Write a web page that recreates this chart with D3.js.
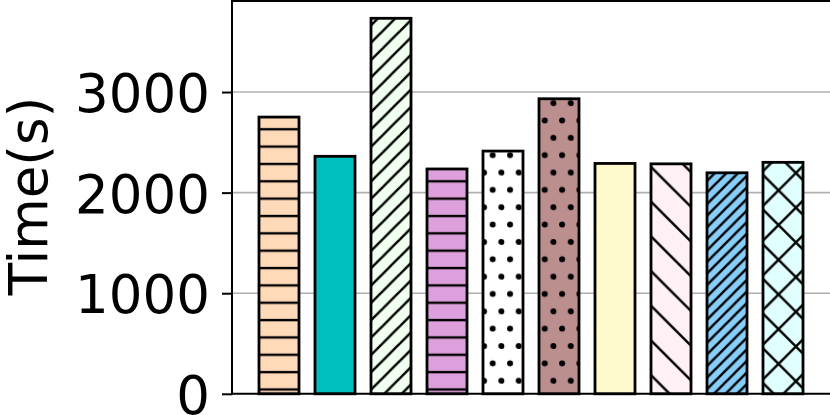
<!DOCTYPE html>
<html><head><meta charset="utf-8">
<script src="https://cdn.jsdelivr.net/npm/d3@7"></script>
<style>body{margin:0;background:#fff}svg{display:block}</style>
</head><body><svg id="c" width="830" height="415"></svg>
<script>
// ---- data ----
const categories = ["B1","B2","B3","B4","B5","B6","B7","B8","B9","B10"];
const times = [2751, 2361, 3733, 2235, 2413, 2933, 2290, 2286, 2197, 2301];
const colors = ["#FFDAB9","#00BFBF","#F0FFF0","#DDA0DD","#FFFFFF","#BC8F8F","#FFFACD","#FFF0F5","#87CEFA","#E0FFFF"];
const hatches = ["-","","//","-",".",".","","\\","///","x"];
const yTicks = [0, 1000, 2000, 3000];
const yLabel = "Time(s)";

(function () {
// ---- layout ----
const W = 830, H = 415;
const pLeft = 232, pRight = 830, pTop = 1, pBottom = 393.8;
const svg = d3.select("#c");
svg.append("rect").attr("width", W).attr("height", H).attr("fill", "#fff");

const x = d3.scaleBand().domain(categories).range([pLeft, pRight])
  .paddingInner(0.2857).paddingOuter(0.482).align(0.5);
const y = d3.scaleLinear().domain([0, 3905]).range([pBottom, pTop]);

// ---- hatch patterns ----
const T = 104.1;
const defs = svg.append("defs");
const hw = 2.4;
function makePattern(id, h) {
  const nH = (h.split("-").length - 1) * 6;
  const nNE = ((h.split("/").length - 1) + (h.split("x").length - 1)) * 6;
  const nNW = ((h.split("\\").length - 1) + (h.split("x").length - 1)) * 6;
  const nDot = (h.split(".").length - 1) * 6;
  if (nDot) {
    const s = T / nDot;
    const p = defs.append("pattern").attr("id", id).attr("patternUnits", "userSpaceOnUse")
      .attr("width", s).attr("height", 2 * s);
    const pts = [[6.9 % s, 16.4 % (2*s)], [(6.9 + s/2) % s, (16.4 + s) % (2*s)]];
    pts.forEach(([cx, cy]) => {
      for (let dx = -1; dx <= 1; dx++) for (let dy = -1; dy <= 1; dy++)
        p.append("circle").attr("cx", cx + dx * s).attr("cy", cy + dy * 2 * s).attr("r", 3).attr("fill", "#000");
    });
    return;
  }
  let per = 1000;
  if (nH) per = T / nH;
  if (nNE) per = 2 * T / nNE;
  if (nNW) per = 2 * T / nNW;
  const p = defs.append("pattern").attr("id", id).attr("patternUnits", "userSpaceOnUse")
    .attr("width", per).attr("height", per);
  const g = p.append("g").attr("stroke", "#000").attr("stroke-width", hw).attr("fill", "none");
  if (nH) {
    const ph = 7.8 % per;
    for (let k = -1; k <= 1; k++)
      g.append("line").attr("x1", -1).attr("x2", per + 1).attr("y1", ph + k * per).attr("y2", ph + k * per);
  }
  if (nNE) {
    const c0 = 32 % per;
    for (let k = -2; k <= 3; k++) {
      const C = c0 + k * per;
      g.append("line").attr("x1", C + per).attr("y1", -per).attr("x2", C - 2 * per).attr("y2", 2 * per);
    }
  }
  if (nNW) {
    const c0 = 33 % per;
    for (let k = -3; k <= 2; k++) {
      const C = c0 + k * per;
      g.append("line").attr("x1", C - per).attr("y1", -per).attr("x2", C + 2 * per).attr("y2", 2 * per);
    }
  }
}
hatches.forEach((h, i) => { if (h) makePattern("hatch" + i, h); });

// ---- grid ----
svg.append("g").selectAll("line").data(yTicks.filter(d => d > 0)).join("line")
  .attr("x1", pLeft).attr("x2", pRight).attr("y1", d => y(d)).attr("y2", d => y(d))
  .attr("stroke", "#b0b0b0").attr("stroke-width", 1.6);

// ---- bars ----
const rows = categories.map((c, i) => ({c, v: times[i], col: colors[i], h: hatches[i], i}));
const bars = svg.append("g").selectAll("g").data(rows).join("g");
bars.append("rect")
  .attr("x", d => x(d.c)).attr("width", x.bandwidth())
  .attr("y", d => y(d.v)).attr("height", d => y(0) - y(d.v))
  .attr("fill", d => d.col);
bars.filter(d => d.h).append("rect")
  .attr("x", d => x(d.c)).attr("width", x.bandwidth())
  .attr("y", d => y(d.v)).attr("height", d => y(0) - y(d.v))
  .attr("fill", d => "url(#hatch" + d.i + ")");
bars.append("rect")
  .attr("x", d => x(d.c)).attr("width", x.bandwidth())
  .attr("y", d => y(d.v)).attr("height", d => y(0) - y(d.v))
  .attr("fill", "none").attr("stroke", "#000").attr("stroke-width", 2.8);

// ---- axes ----
const yAxis = svg.append("g").attr("transform", `translate(${pLeft},0)`)
  .call(d3.axisLeft(y).tickValues(yTicks).tickSize(10).tickPadding(12).tickFormat(d3.format("d")));
yAxis.select(".domain").remove();
yAxis.selectAll(".tick line").attr("stroke", "#000").attr("stroke-width", 2);
yAxis.selectAll(".tick text").attr("font-family", "DejaVu Sans").attr("font-size", 53)
  .attr("fill", "#000").attr("dy", "0.37em");

svg.append("line").attr("x1", pLeft).attr("x2", pLeft).attr("y1", 0).attr("y2", pBottom + 1)
  .attr("stroke", "#000").attr("stroke-width", 2);
svg.append("line").attr("x1", pLeft - 1).attr("x2", pRight).attr("y1", pBottom).attr("y2", pBottom)
  .attr("stroke", "#000").attr("stroke-width", 2);
svg.append("line").attr("x1", pLeft - 1).attr("x2", pRight).attr("y1", pTop).attr("y2", pTop)
  .attr("stroke", "#000").attr("stroke-width", 2);

svg.append("text").attr("transform", "translate(47,196) rotate(-90)")
  .attr("text-anchor", "middle").attr("font-family", "DejaVu Sans").attr("font-size", 53)
  .attr("fill", "#000").text(yLabel);
})();
</script></body></html>
